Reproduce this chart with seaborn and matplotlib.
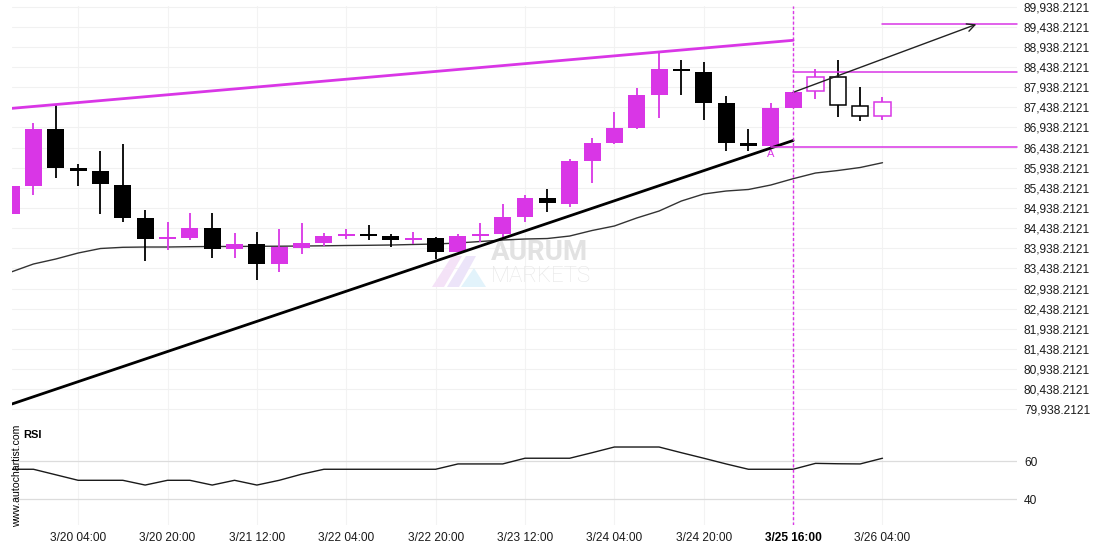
import numpy as np
import matplotlib
matplotlib.use("Agg")
import matplotlib.pyplot as plt
import seaborn as sns
from matplotlib.patches import Polygon

# ---------------- data ----------------
opens = [84787, 85483, 86899, 85930, 85855, 85508, 84687, 84178, 84190, 84439,
         83917, 84041, 83544, 83942, 84066, 84253, 84277, 84240, 84141, 84190,
         83843, 84240, 84290, 84712, 85184, 85035, 86104, 86551, 86924, 87744,
         88390, 88316, 87545, 86551, 86477, 87421, 87843, 88191, 87471, 87222]
highs = [85483, 87048, 87495, 86029, 86352, 86526, 84886, 84588, 84812, 84812,
         84315, 84340, 84414, 84563, 84315, 84414, 84514, 84290, 84340, 84215,
         84290, 84563, 85035, 85259, 85408, 86154, 86675, 87322, 87918, 88813,
         88614, 88564, 87719, 86899, 87545, 87819, 88390, 88614, 87943, 87694]
lows = [84787, 85259, 85681, 85483, 84787, 84588, 83619, 83892, 84141, 83693,
        83693, 83147, 83346, 83793, 83992, 84166, 84141, 83967, 84041, 83669,
        83843, 84091, 84215, 84588, 84837, 84961, 85557, 86526, 86899, 87172,
        87744, 87123, 86352, 86352, 86452, 87421, 87645, 87197, 87098, 87123]
closes = [85483, 86899, 85930, 85855, 85532, 84687, 84166, 84203, 84439, 83917,
          84041, 83544, 83967, 84066, 84240, 84270, 84253, 84141, 84190, 83843,
          84240, 84290, 84712, 85184, 85060, 86104, 86551, 86924, 87744, 88390,
          88340, 87545, 86551, 86477, 87421, 87819, 88191, 87495, 87222, 87570]
hollow_from = 36  # candles after the pattern end are drawn hollow

ma_values = [83348, 83547, 83671, 83820, 83932, 83962, 83969, 83969, 83977, 83982,
             83982, 83987, 83989, 83994, 83999, 84007, 84012, 84019, 84032, 84044,
             84069, 84106, 84143, 84168, 84180, 84242, 84379, 84491, 84690, 84863,
             85112, 85286, 85360, 85398, 85509, 85666, 85807, 85869, 85944, 86063]

rsi_values = [55.8, 55.8, 52.9, 50.0, 50.0, 50.0, 47.5, 50.0, 50.0, 47.5,
              50.0, 47.5, 50.0, 53.2, 55.8, 55.8, 55.8, 55.8, 55.8, 55.8,
              58.6, 58.6, 58.6, 61.6, 61.6, 61.6, 64.5, 67.5, 67.5, 67.5,
              64.5, 61.6, 58.6, 55.8, 55.8, 55.8, 58.9, 58.7, 58.6, 61.6]

x_tick_idx = [3, 7, 11, 15, 19, 23, 27, 31, 35, 39]
x_tick_labels = ["3/20 04:00", "3/20 20:00", "3/21 12:00", "3/22 04:00", "3/22 20:00",
                 "3/23 12:00", "3/24 04:00", "3/24 20:00", "3/25 16:00", "3/26 04:00"]
bold_tick = "3/25 16:00"

y_tick_values = np.arange(79938.2121, 89938.2122, 500)
rsi_ticks = [40, 60]

resistance_x = [0.04, 35]
resistance_y = [87414, 89104]
support_x = [0.04, 35]
support_y = [80070, 86615]
arrow_start = (35, 87811)
arrow_end = (43.2, 89501)
levels = [(39, 89501), (35, 88315), (34, 86452)]  # (start index, price)
pattern_idx = 35
point_a = (34, 86279)

# ---------------- style ----------------
MAG = "#d936e6"
sns.set_theme(style="white")
plt.rcParams["font.family"] = ["Liberation Sans", "DejaVu Sans"]

W, H = 1110, 550
fig = plt.figure(figsize=(W / 100, H / 100), dpi=100)
x_left, x_right = 12, 1017
ax = fig.add_axes([x_left / W, 1 - 420 / H, (x_right - x_left) / W, (420 - 6) / H])
axr = fig.add_axes([x_left / W, 1 - 525 / H, (x_right - x_left) / W, (525 - 420) / H], sharex=ax)

n = len(opens)
idx = np.arange(n)
XMAX = 45.02

# grid lines
for a in (ax, axr):
    for s in a.spines.values():
        s.set_visible(False)
    for xi in x_tick_idx:
        a.axvline(xi, color="#f3f3f3", lw=0.8, zorder=0)
for v in y_tick_values:
    ax.axhline(v, color="#f1f1f1", lw=0.8, zorder=0)
for v in rsi_ticks:
    axr.axhline(v, color="#dcdcdc", lw=0.9, zorder=0)

# watermark (behind the data)
ax.text(540 / W, 1 - 253 / H, "AURUM", fontsize=20, fontweight="bold", color="#e2e2e2",
        ha="center", va="center", family=["Roboto", "DejaVu Sans"],
        transform=fig.transFigure, zorder=0.5)
ax.text(541 / W, 1 - 276 / H, "MARKETS", fontsize=16, fontweight="light", color="#e6e6e6",
        ha="center", va="center", family=["Roboto", "DejaVu Sans"],
        transform=fig.transFigure, zorder=0.5)
logo = [
    ([(432, 287), (452, 256), (462, 256), (444, 287)], "#f4e2f7"),
    ([(447, 287), (466, 256), (476, 256), (459, 287)], "#ece4f9"),
    ([(461, 287), (474, 268), (486, 287)], "#e2f3fb"),
]
for pts, colr in logo:
    ax.add_patch(Polygon([(px / W, 1 - py / H) for px, py in pts], closed=True,
                         transform=fig.transFigure, facecolor=colr,
                         edgecolor="none", zorder=0.5))

# moving average
sns.lineplot(x=idx, y=ma_values, ax=ax, color="#333333", lw=1.0, zorder=2)

# candles
min_body = 62
for i in range(n):
    o, h, l, c = opens[i], highs[i], lows[i], closes[i]
    col = MAG if c >= o else "black"
    ax.vlines(i, l, h, color=col, lw=1.3, zorder=3)
    bottom = min(o, c)
    height = max(abs(c - o), min_body)
    if abs(c - o) < min_body:
        bottom = (o + c) / 2 - min_body / 2
    if i >= hollow_from:
        ax.bar(i, height, bottom=bottom, width=0.74, color="white", edgecolor=col,
               linewidth=1.1, zorder=4)
    else:
        ax.bar(i, height, bottom=bottom, width=0.76, color=col, linewidth=0, zorder=4)

# trend lines
ax.plot(resistance_x, resistance_y, color=MAG, lw=2.0, zorder=5)
ax.plot(support_x, support_y, color="black", lw=2.0, zorder=5)
for start, price in levels:
    ax.plot([start, XMAX], [price, price], color=MAG, lw=1.1, zorder=5, clip_on=False)
ax.annotate("", xy=arrow_end, xytext=arrow_start,
            arrowprops=dict(arrowstyle="->", color="#222222", lw=1.0,
                            mutation_scale=14, shrinkA=0, shrinkB=0), zorder=6)
ax.text(point_a[0], point_a[1], "A", color=MAG, fontsize=8, ha="center", va="center")

for a in (ax, axr):
    a.axvline(pattern_idx, color=MAG, lw=1.0, linestyle=(0, (2.2, 1.6)), zorder=6)

ax.set_xlim(0.04, XMAX)
ax.set_ylim(79672, 89956)
ax.yaxis.tick_right()
ax.set_yticks(y_tick_values)
ax.set_yticklabels([f"{v:,.4f}" for v in y_tick_values])
ax.tick_params(axis="y", length=0, pad=5, labelsize=8.6, labelcolor="#1a1a1a")
ax.tick_params(axis="x", length=0, labelbottom=False)
ax.set_xlabel("")
ax.set_ylabel("")

# RSI panel
sns.lineplot(x=idx, y=rsi_values, ax=axr, color="#1a1a1a", lw=1.0, zorder=3)
axr.set_ylim(26.5, 81.7)
axr.yaxis.tick_right()
axr.set_yticks(rsi_ticks)
axr.set_yticklabels([str(t) for t in rsi_ticks])
axr.tick_params(axis="y", length=0, pad=5, labelsize=8.6, labelcolor="#1a1a1a")
axr.set_xticks(x_tick_idx)
axr.set_xticklabels(x_tick_labels)
axr.tick_params(axis="x", length=0, pad=5, labelsize=8.6, labelcolor="#1a1a1a")
for lab in axr.get_xticklabels():
    if lab.get_text() == bold_tick:
        lab.set_fontweight("bold")
        lab.set_color("black")
axr.set_xlabel("")
axr.set_ylabel("")
axr.text(0.011, 0.86, "RSI", transform=axr.transAxes, fontsize=8, fontweight="bold",
         ha="left", va="center", color="black")

# side text
fig.text(17 / W, 1 - 476 / H, "www.autochartist.com", rotation=90, fontsize=7.6,
         ha="center", va="center", color="black")

fig.savefig("out.png", dpi=100)
